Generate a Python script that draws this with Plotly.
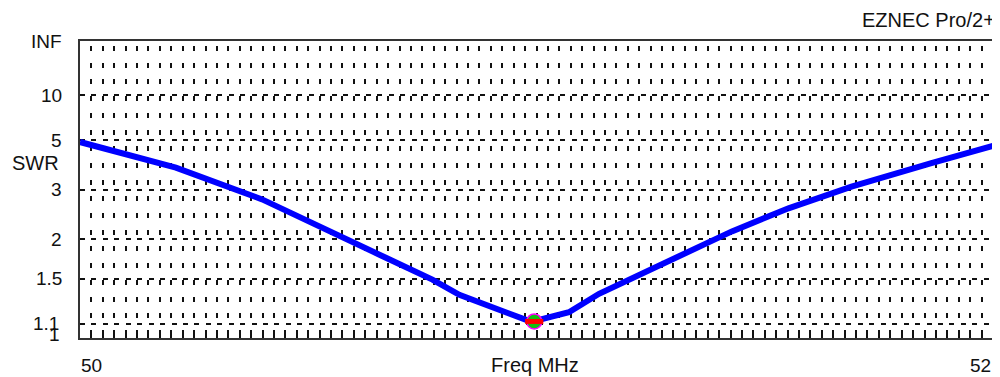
import plotly.graph_objects as go

# ---- data ----
freq_mhz = [50.000, 50.210, 50.399, 50.553, 50.656, 50.772, 50.831, 50.977,
            50.995, 51.016, 51.071, 51.137, 51.282, 51.428, 51.552, 51.690,
            51.865, 52.000]
swr = [4.88, 3.69, 2.75, 2.09, 1.78, 1.49, 1.34, 1.13,
       1.12, 1.14, 1.19, 1.35, 1.67, 2.12, 2.55, 3.08,
       3.86, 4.66]
min_freq = [50.995]
min_swr = [1.118]

swr_grid = [1.1, 1.5, 2, 3, 5, 10]
swr_labels = ["INF", "10", "5", "3", "2", "1.5", "1.1", "1"]
swr_label_vals = [None, 10, 5, 3, 2, 1.5, 1.1, 1]


def rho(s):
    # EZNEC SWR scale is linear in reflection coefficient
    if s is None:
        return 1.0
    return (s - 1.0) / (s + 1.0)


FONT = "Liberation Sans, Arial, sans-serif"
TXT = "#111111"
BODY = 8  # default page body margin offsets the figure

fig = go.Figure()
fig.add_trace(go.Scatter(
    x=freq_mhz, y=[rho(s) for s in swr], mode="lines",
    line=dict(color="#0000ff", width=6), hoverinfo="skip", showlegend=False))
fig.add_trace(go.Scatter(
    x=min_freq, y=[rho(s) for s in min_swr], mode="markers",
    marker=dict(symbol="circle", size=15, color="#11c011",
                line=dict(color="#ff00ff", width=1.5)),
    hoverinfo="skip", showlegend=False))
fig.add_trace(go.Scatter(
    x=min_freq, y=[rho(s) for s in min_swr], mode="markers",
    marker=dict(symbol="line-ew", size=13, line=dict(color="#ff0000", width=5)),
    hoverinfo="skip", showlegend=False))

annotations = []
for lab, v in zip(swr_labels, swr_label_vals):
    xs = -16
    ys = 0
    if lab == "1.1":
        xs = -19
    if lab == "1":
        xs = -18
        ys = 4
    annotations.append(dict(
        text=lab, xref="paper", x=0, xanchor="right", xshift=xs,
        yref="y", y=rho(v), yanchor="middle", yshift=ys, showarrow=False,
        font=dict(family=FONT, size=19, color=TXT)))

annotations += [
    dict(text="SWR", xref="paper", x=0, xanchor="left", xshift=-70,
         yref="paper", y=(338 - 163) / 297, yanchor="middle", showarrow=False,
         font=dict(family=FONT, size=20, color=TXT)),
    dict(text="EZNEC Pro/2+", xref="paper", x=1, xanchor="right", xshift=4,
         yref="paper", y=1, yanchor="middle", yshift=21, showarrow=False,
         font=dict(family=FONT, size=20, color=TXT)),
    dict(text="Freq MHz", xref="paper", x=0.5, xanchor="center", xshift=-2,
         yref="paper", y=0, yanchor="middle", yshift=-27, showarrow=False,
         font=dict(family=FONT, size=20, color=TXT)),
    dict(text="50", xref="paper", x=0, xanchor="left", xshift=-1,
         yref="paper", y=0, yanchor="middle", yshift=-27, showarrow=False,
         font=dict(family=FONT, size=19, color=TXT)),
    dict(text="52", xref="paper", x=1, xanchor="right", xshift=0,
         yref="paper", y=0, yanchor="middle", yshift=-27, showarrow=False,
         font=dict(family=FONT, size=19, color=TXT)),
]

fig.update_layout(
    width=1000 - BODY, height=377 - BODY, autosize=False,
    margin=dict(l=80 - BODY, r=5, t=41 - BODY, b=39, pad=0),
    paper_bgcolor="white", plot_bgcolor="white",
    annotations=annotations,
    xaxis=dict(range=[50, 52], tick0=50, dtick=0.025, showticklabels=False,
               showgrid=True, gridcolor="#111", gridwidth=1.6,
               griddash="0px,5px,5px,6.7px",
               ticks="inside", ticklen=4, tickwidth=1.5, tickcolor="#111",
               showline=True, linecolor="#333", linewidth=2, mirror=True,
               zeroline=False, fixedrange=True),
    yaxis=dict(range=[0, 1], tickvals=[rho(s) for s in swr_grid],
               showticklabels=False, ticks="",
               showgrid=True, gridcolor="#111", gridwidth=1.6,
               griddash="5px,6.44px",
               showline=True, linecolor="#333", linewidth=2, mirror=True,
               zeroline=False, fixedrange=True),
)

fig.write_html("out.html", config={"displayModeBar": False})
